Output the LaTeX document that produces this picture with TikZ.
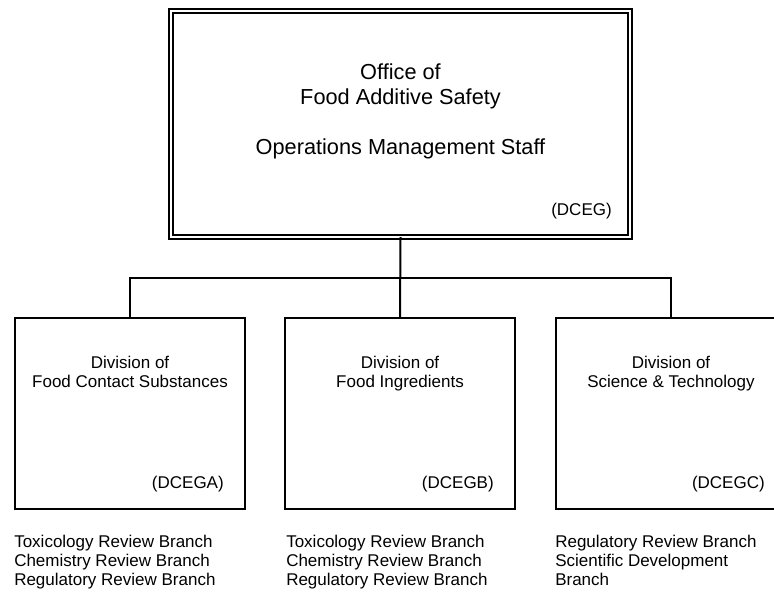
\documentclass[tikz,border=0pt]{standalone}
\usepackage{fontspec}
\setmainfont{Liberation Sans}
\usepackage{tikz}
\usetikzlibrary{positioning}
\usepackage{xcolor}

\newcommand\offfont{\fontsize{16.3pt}{18.75pt}\selectfont}
\newcommand\divfont{\fontsize{12.75pt}{14.25pt}\selectfont}

\tikzset{
  office/.style={draw=black, double, double distance=1.9pt, line width=1.5pt, outer sep=0pt,
    minimum width=344.25pt, minimum height=169.5pt},
  division/.style={draw=black, line width=1.5pt, outer sep=0pt,
    minimum width=172.5pt, minimum height=143.25pt},
  title/.style={inner sep=0pt, align=center, anchor=base},
  code/.style={inner sep=0pt, anchor=base east, font=\divfont},
  branches/.style={inner sep=0pt, align=left, anchor=base west, font=\divfont},
  link/.style={draw=black, line width=1.5pt}
}

\begin{document}
\begin{tikzpicture}[x=0.75pt,y=-0.75pt]

  \useasboundingbox (0,0) rectangle (774,592);

  % office box
  \node[office] (OfFo) at (400.5,124) {};
  \node[title, font=\offfont] (OfTi) at (400.5,154) {Office of\\Food Additive Safety\\[18.75pt]Operations Management Staff};
  \node[code] (OfCo) at (612,215) {(DCEG)};

  % divisions
  \node[division] (DiFC) at (130,413.5) {};
  \node[division] (DiFI) at (400,413.5) {};
  \node[division] (DiST) at (671,413.5) {};

  \node[title, font=\divfont] (FCTi) at (130,387) {Division of\\Food Contact Substances};
  \node[title, font=\divfont] (FITi) at (400,387) {Division of\\Food Ingredients};
  \node[title, font=\divfont] (STTi) at (671,387) {Division of\\Science \& Technology};

  \node[code] (FCCo) at (224,488) {(DCEGA)};
  \node[code] (FICo) at (494,488) {(DCEGB)};
  \node[code] (STCo) at (765,488) {(DCEGC)};

  % branches
  \node[branches] (FCBr) at (14,585) {Toxicology Review Branch\\Chemistry Review Branch\\Regulatory Review Branch};
  \node[branches] (FIBr) at (286,585) {Toxicology Review Branch\\Chemistry Review Branch\\Regulatory Review Branch};
  \node[branches] (STBr) at (555,585) {Regulatory Review Branch\\Scientific Development\\Branch};

  % connectors
  \coordinate (Jn) at (400,278);
  \draw[link] (OfFo.south) -- (DiFI.north);
  \draw[link] (DiFC.north) |- (Jn) -| (DiST.north);

\end{tikzpicture}
\end{document}
